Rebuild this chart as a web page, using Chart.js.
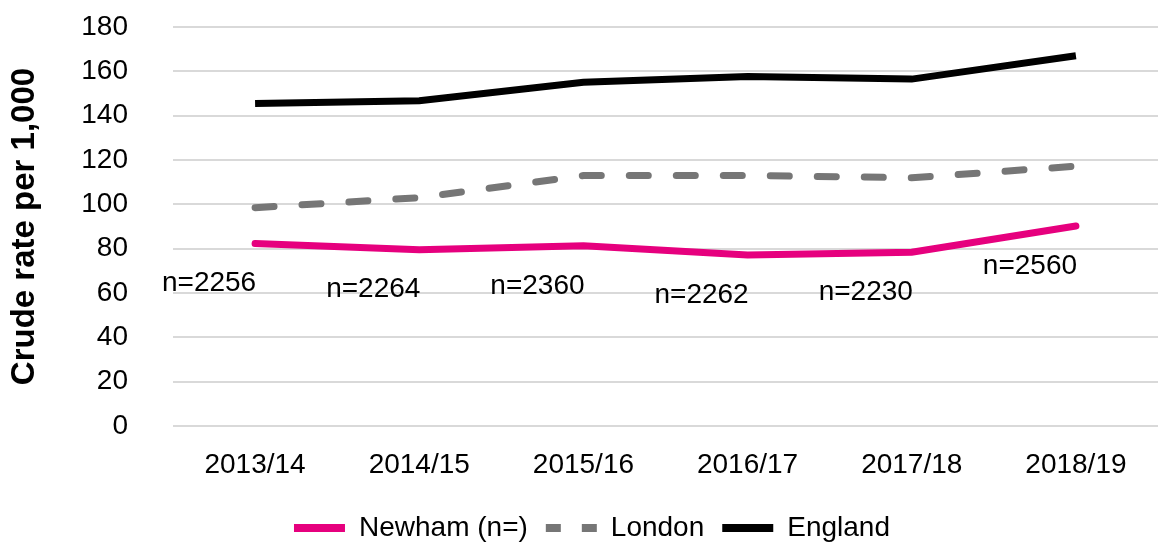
<!DOCTYPE html>
<html>
<head>
<meta charset="utf-8">
<script src="https://cdn.jsdelivr.net/npm/chart.js@4/dist/chart.umd.min.js"></script>
<style>
  html, body { margin: 0; padding: 0; background: #ffffff; }
  #wrap { width: 1158px; height: 542px; }
</style>
</head>
<body>
<div id="wrap"><canvas id="rateChart" width="1158" height="542"></canvas></div>
<script>
const years = ['2013/14', '2014/15', '2015/16', '2016/17', '2017/18', '2018/19'];
const newham = [82.3, 79.5, 81.3, 77.1, 78.4, 90.2];
const london = [98.5, 103.0, 113.0, 113.0, 112.0, 117.2];
const england = [145.5, 146.7, 155.1, 157.7, 156.5, 167.0];
const newhamCounts = ['n=2256', 'n=2264', 'n=2360', 'n=2262', 'n=2230', 'n=2560'];

const FONT = '"Liberation Sans", Arial, Helvetica, sans-serif';

const colors = {
    newham: '#e6007e',
    london: '#767676',
    england: '#000000',
    grid: '#d9d9d9',
    text: '#000000',
};

// "n=" labels sit below-left of each Newham point, like the Excel data labels
const countLabels = {
    id: 'countLabels',
    afterDatasetsDraw(chart) {
        const meta = chart.getDatasetMeta(0);
        const ctx = chart.ctx;
        ctx.save();
        ctx.font = '28px ' + FONT;
        ctx.fillStyle = colors.text;
        ctx.textAlign = 'center';
        ctx.textBaseline = 'middle';
        meta.data.forEach((pt, i) => {
            ctx.fillText(newhamCounts[i], pt.x - 46, pt.y + 40);
        });
        ctx.restore();
    }
};

// nudge the legend a little right and down, where Excel put it
const legendNudge = {
    id: 'legendNudge',
    afterLayout(chart) {
        const lg = chart.legend;
        if (!lg) return;
        lg.left += 13;
        lg.right += 13;
        lg.top += 10;
        lg.bottom += 10;
    }
};

new Chart(document.getElementById('rateChart'), {
    type: 'line',
    data: {
        labels: years,
        datasets: [
            {
                label: 'Newham (n=)',
                data: newham,
                borderColor: colors.newham,
                backgroundColor: colors.newham,
                borderWidth: 7,
                borderCapStyle: 'round',
                pointRadius: 0,
                tension: 0,
            },
            {
                label: 'London',
                data: london,
                borderColor: colors.london,
                backgroundColor: colors.london,
                borderWidth: 7,
                borderDash: [19, 28],
                borderCapStyle: 'round',
                pointRadius: 0,
                tension: 0,
            },
            {
                label: 'England',
                data: england,
                borderColor: colors.england,
                backgroundColor: colors.england,
                borderWidth: 7,
                pointRadius: 0,
                tension: 0,
            }
        ]
    },
    options: {
        responsive: false,
        animation: false,
        layout: { padding: { top: 27, right: 0, left: 0, bottom: 0 } },
        plugins: {
            tooltip: { enabled: false },
            legend: {
                position: 'bottom',
                labels: {
                    color: colors.text,
                    font: { family: FONT, size: 28 },
                    usePointStyle: true,
                    pointStyle: 'line',
                    boxWidth: 51,
                    pointStyleWidth: 51,
                    padding: 18,
                    generateLabels(chart) {
                        return chart.data.datasets.map((ds, i) => ({
                            text: ds.label,
                            fillStyle: ds.borderColor,
                            strokeStyle: ds.borderColor,
                            lineWidth: 8,
                            lineDash: i === 1 ? [15, 21] : [],
                            lineCap: 'butt',
                            pointStyle: 'line',
                            fontColor: colors.text,
                            datasetIndex: i,
                            hidden: false,
                        }));
                    }
                }
            }
        },
        scales: {
            x: {
                offset: true,
                afterFit(scale) { scale.height = 60; },
                grid: { display: false, drawTicks: false },
                border: { display: false },
                ticks: { color: colors.text, font: { family: FONT, size: 28 }, padding: 22, maxRotation: 0 },
            },
            y: {
                min: 0,
                max: 180,
                afterFit(scale) {
                    scale.width = 173;
                    scale.paddingTop = 16;
                    scale.paddingBottom = 0;
                },
                grid: { color: colors.grid, lineWidth: 2, drawTicks: false },
                border: { display: false },
                ticks: { stepSize: 20, color: colors.text, font: { family: FONT, size: 28 }, padding: 45 },
                title: {
                    display: true,
                    text: 'Crude rate per 1,000',
                    color: colors.text,
                    font: { family: FONT, size: 33, weight: 'bold' },
                    padding: { top: 5, bottom: 0 },
                }
            }
        }
    },
    plugins: [countLabels, legendNudge]
});
</script>
</body>
</html>
